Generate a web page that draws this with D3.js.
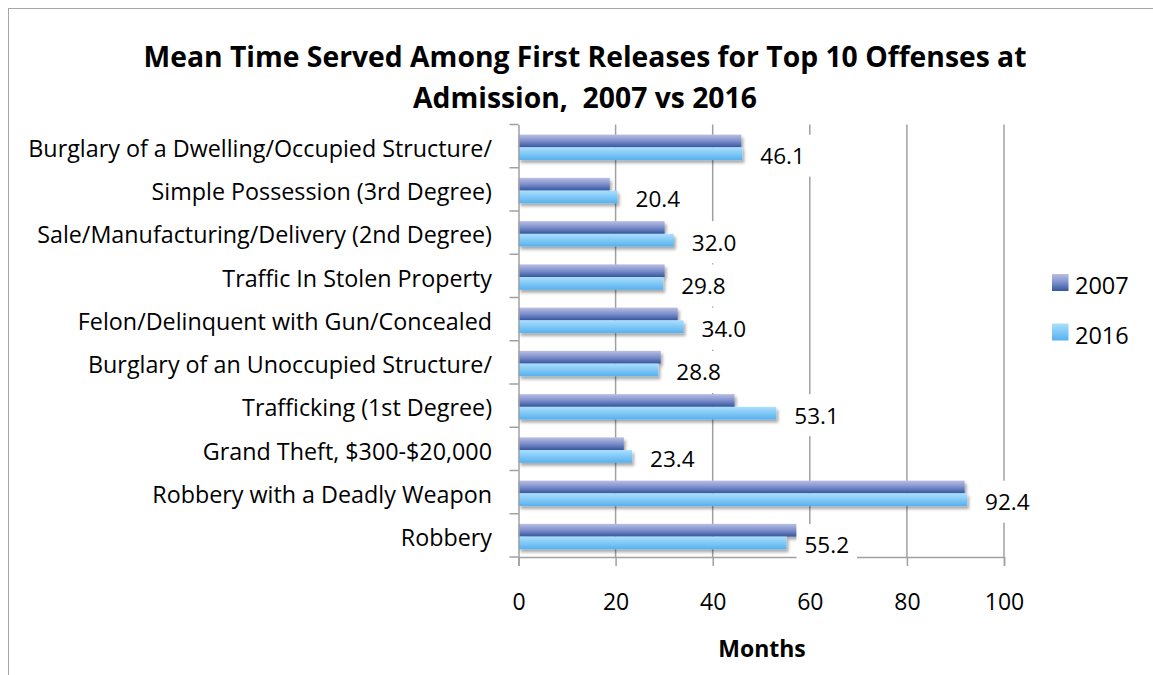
<!DOCTYPE html>
<html><head><meta charset="utf-8">
<script src="https://cdn.jsdelivr.net/npm/d3@7"></script>
<style>
body{margin:0;background:#fff;}
svg{display:block;font-family:"Open Sans",Lato,sans-serif;}
</style></head>
<body><svg id="c" width="1153" height="675"></svg>
<script>
const categories = [
  "Burglary of a Dwelling/Occupied Structure/",
  "Simple Possession (3rd Degree)",
  "Sale/Manufacturing/Delivery (2nd Degree)",
  "Traffic In Stolen Property",
  "Felon/Delinquent with Gun/Concealed",
  "Burglary of an Unoccupied Structure/",
  "Trafficking (1st Degree)",
  "Grand Theft, $300-$20,000",
  "Robbery with a Deadly Weapon",
  "Robbery"
];
const seriesNames = ["2007", "2016"];
const values2007 = [45.9, 18.8, 30.1, 30.1, 32.8, 29.3, 44.5, 21.7, 91.9, 57.3];
const values2016 = [46.1, 20.4, 32.0, 29.8, 34.0, 28.8, 53.1, 23.4, 92.4, 55.2];
const xTicks = [0, 20, 40, 60, 80, 100];
const titleLines = ["Mean Time Served Among First Releases for Top 10 Offenses at", "Admission,  2007 vs 2016"];
const xAxisTitle = "Months";

(function(){
const svg = d3.select("#c");
const defs = svg.append("defs");
const g07 = defs.append("linearGradient").attr("id","g2007").attr("x1",0).attr("x2",0).attr("y1",0).attr("y2",1);
g07.append("stop").attr("offset","0%").attr("stop-color","#b9bee4");
g07.append("stop").attr("offset","50%").attr("stop-color","#7d8fcb");
g07.append("stop").attr("offset","100%").attr("stop-color","#34559e");
const g16 = defs.append("linearGradient").attr("id","g2016").attr("x1",0).attr("x2",0).attr("y1",0).attr("y2",1);
g16.append("stop").attr("offset","0%").attr("stop-color","#abdffe");
g16.append("stop").attr("offset","100%").attr("stop-color","#56b1ee");
const f = defs.append("filter").attr("id","sh").attr("x","-5%").attr("y","-50%").attr("width","110%").attr("height","200%");
f.append("feDropShadow").attr("dx",2).attr("dy",3).attr("stdDeviation",1.6).attr("flood-color","#000").attr("flood-opacity",0.33);

svg.append("rect").attr("x",8.5).attr("y",8.5).attr("width",1160).attr("height",700)
  .attr("fill","none").attr("stroke","#a6a6a6").attr("stroke-width",1);

const pLeft = 518.5, pRight = 1004, pTop = 124.5, pBottom = 557;
const x = d3.scaleLinear().domain([0,100]).range([pLeft,pRight]);
const y = d3.scaleBand().domain(categories).range([pTop,pBottom]).padding(0);
const y1 = d3.scaleBand().domain(seriesNames).range([1.2,y.bandwidth()+1.2]).paddingInner(0).paddingOuter(0.7);
const colorId = {"2007":"url(#g2007)","2016":"url(#g2016)"};

svg.append("g").selectAll("line").data(xTicks.filter(d=>d>0)).join("line")
  .attr("x1",d=>x(d)).attr("x2",d=>x(d)).attr("y1",pTop).attr("y2",pBottom)
  .attr("stroke","#a0a0a0").attr("stroke-width",1.5);

const rows = categories.map((c,i)=>({c, v:[values2007[i], values2016[i]]}));
const bg = svg.append("g").attr("filter","url(#sh)");
rows.forEach(r=>{
  seriesNames.forEach((s,j)=>{
    bg.append("rect").attr("x",x(0)).attr("y",y(r.c)+y1(s))
      .attr("width",x(r.v[j])-x(0)).attr("height",y1.bandwidth())
      .attr("fill",colorId[s]);
  });
});

const xAxis = d3.axisBottom(x).tickValues(xTicks).tickSize(9).tickFormat(d3.format("d"));
const ax = svg.append("g").attr("transform",`translate(0,${pBottom})`).call(xAxis);
ax.select(".domain").attr("stroke","#a0a0a0").attr("stroke-width",1.5);
ax.selectAll(".tick line").attr("stroke","#a0a0a0").attr("stroke-width",1.5);
ax.selectAll("text").attr("y",53).attr("dy",0).attr("font-size",23).attr("fill","#000").attr("font-family","Open Sans");

const yAxis = d3.axisLeft(y).tickSize(0).tickPadding(26.5);
const ay = svg.append("g").attr("transform",`translate(${pLeft},0)`).call(yAxis);
ay.select(".domain").attr("stroke","#a0a0a0").attr("stroke-width",1.5);
ay.selectAll("text").attr("dy",0).attr("y",10.7).attr("font-size",23.3).attr("fill","#000").attr("font-family","Open Sans");
svg.append("g").selectAll("line").data(d3.range(categories.length+1)).join("line")
  .attr("x1",pLeft-9).attr("x2",pLeft).attr("y1",i=>pTop+i*y.step()).attr("y2",i=>pTop+i*y.step())
  .attr("stroke","#a0a0a0").attr("stroke-width",1.5);

const lg = svg.append("g");
rows.forEach(r=>{
  const v = r.v[1];
  const cy = y(r.c)+y1("2016")+y1.bandwidth()/2;
  const tx = x(v)+18;
  const t = lg.append("text").attr("x",tx).attr("y",cy+10.5)
    .attr("font-size",22.5).attr("fill","#000").text(v.toFixed(1));
  const w = t.node().getComputedTextLength();
  lg.insert("rect","text").attr("x",tx-8).attr("y",cy-19).attr("width",w+16).attr("height",42).attr("fill","#fff");
});

svg.append("g").selectAll("text").data(titleLines).join("text")
  .attr("x",585).attr("y",(d,i)=>67+i*41).attr("text-anchor","middle")
  .style("white-space","pre")
  .attr("font-size",28.3).attr("font-weight","bold").attr("fill","#000").text(d=>d);

svg.append("text").attr("x",762).attr("y",657).attr("text-anchor","middle")
  .attr("font-size",23).attr("font-weight","bold").text(xAxisTitle);

const leg = svg.append("g");
seriesNames.forEach((s,i)=>{
  const ly = 282.5 + i*49.5;
  leg.append("rect").attr("x",1052).attr("y",ly-8.5).attr("width",16.5).attr("height",17).attr("fill",colorId[s]);
  leg.append("text").attr("x",1075).attr("y",ly+11.5).attr("font-size",23.5).text(s);
});
})();
</script></body></html>
